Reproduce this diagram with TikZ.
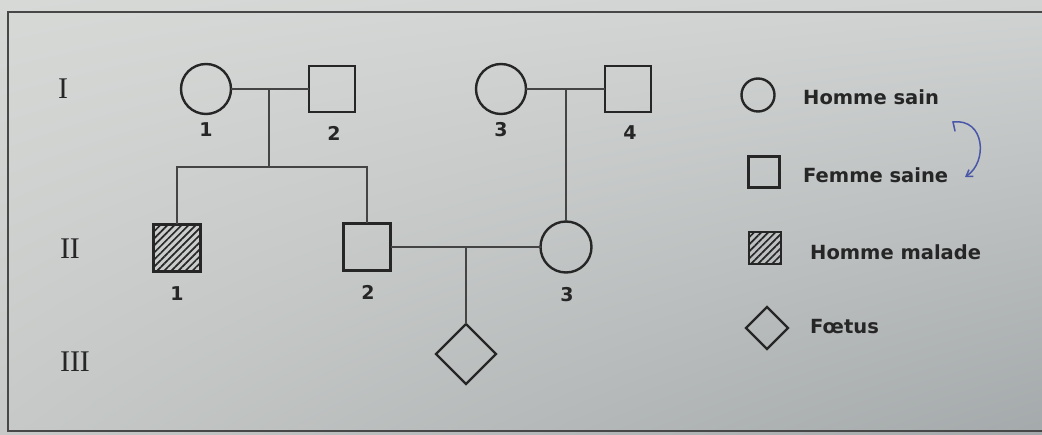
\documentclass[tikz,border=0pt]{standalone}
\usepackage{fontspec}
\setmainfont{Liberation Serif}
\newfontfamily\lgfont{DejaVu Sans}
\usetikzlibrary{shapes.geometric,patterns.meta,arrows.meta,shadings}
\definecolor{ink}{HTML}{262626}
\definecolor{lineink}{HTML}{444444}
\definecolor{pen}{HTML}{4A56A8}
\definecolor{bgUL}{HTML}{D7D9D7}
\definecolor{bgUR}{HTML}{D0D3D2}
\definecolor{bgLL}{HTML}{C6C9C7}
\definecolor{bgLR}{HTML}{A4A9AB}
\tikzset{
  sym/.style={draw=ink, line width=2.4pt, inner sep=0pt, outer sep=0pt},
  circ/.style={sym, circle, minimum size=#1},
  sqr/.style={sym, rectangle, minimum size=#1},
  hsqr/.style={sym, rectangle, minimum size=#1, pattern={Lines[angle=45,distance=5pt,line width=1.7pt]}, pattern color=ink},
  dmd/.style={sym, diamond, minimum size=#1},
  link/.style={draw=lineink, line width=1.3pt},
  num/.style={font=\lgfont\bfseries\fontsize{19}{22}\selectfont, text=ink, inner sep=0pt},
  gen/.style={font=\fontsize{30}{34}\selectfont, text=ink, inner sep=0pt},
  lgtext/.style={font=\lgfont\bfseries\fontsize{19.5}{23}\selectfont, text=ink, anchor=west, inner sep=0pt},
  frame/.style={draw=ink!85, line width=1.5pt}
}
\begin{document}
\begin{tikzpicture}[x=1pt,y=-1pt]
\useasboundingbox (0,0) rectangle (1042,435);
\shade[upper left=bgUL, upper right=bgUR, lower left=bgLL, lower right=bgLR] (0,0) rectangle (1042,435);
% frame
\draw[frame] (1042,12) -- (8,12) -- (8,431) -- (1042,431);

% generation labels
\node[gen] (gI) at (63,89) {I};
\node[gen] (gII) at (70,249) {II};
\node[gen] (gIII) at (75,362) {III};

% generation I
\node[circ=50] (I1) at (206,89) {};
\node[sqr=46] (I2) at (332,89) {};
\node[circ=50] (I3) at (501,89) {};
\node[sqr=46] (I4) at (628,89) {};
% generation II
\node[hsqr=47] (II1) at (177,248) {};
\node[sqr=47] (II2) at (367,247) {};
\node[circ=51] (II3) at (566,247) {};
% generation III
\node[dmd=60] (III1) at (466,354) {};

% numbers
\node[num] (nI1) at (206,130) {1};
\node[num] (nI2) at (334,133) {2};
\node[num] (nI3) at (501,130) {3};
\node[num] (nI4) at (630,133) {4};
\node[num] (nII1) at (177,294) {1};
\node[num] (nII2) at (368,292) {2};
\node[num] (nII3) at (567,295) {3};

% couple / descent points
\coordinate (m1) at (269,89);
\coordinate (s1) at (269,167);
\coordinate (m2) at (566,89);
\coordinate (m3) at (466,247);

% connectors
\draw[link] (I1.east) -- (I2.west);
\draw[link] (m1) -- (s1);
\draw[link] (II1.north) -- (II1.north |- s1) -- (II2.north |- s1) -- (II2.north);
\draw[link] (I3.east) -- (I4.west);
\draw[link] (m2) -- (II3.north);
\draw[link] (II2.east) -- (II3.west);
\draw[link] (m3) -- (III1.north);

% legend
\node[circ=33] (L1) at (758,95) {};
\node[lgtext] (T1) at (803,97) {Homme sain};
\node[sqr=31] (L2) at (764,172) {};
\node[lgtext] (T2) at (803,175) {Femme saine};
\node[hsqr=32] (L3) at (765,248) {};
\node[lgtext] (T3) at (810,252) {Homme malade};
\node[dmd=42] (L4) at (767,328) {};
\node[lgtext] (T4) at (810,327) {Fœtus};

% handwritten blue arrow
\coordinate (p0) at (955,131);
\coordinate (p1) at (953,122);
\coordinate (p2) at (965,177);
\draw[pen, line width=1.5pt, line cap=round, -{Straight Barb[length=6pt,width=8pt]}]
  (p0) -- (p1) .. controls (985,118) and (988,162) .. (p2);
\end{tikzpicture}
\end{document}
